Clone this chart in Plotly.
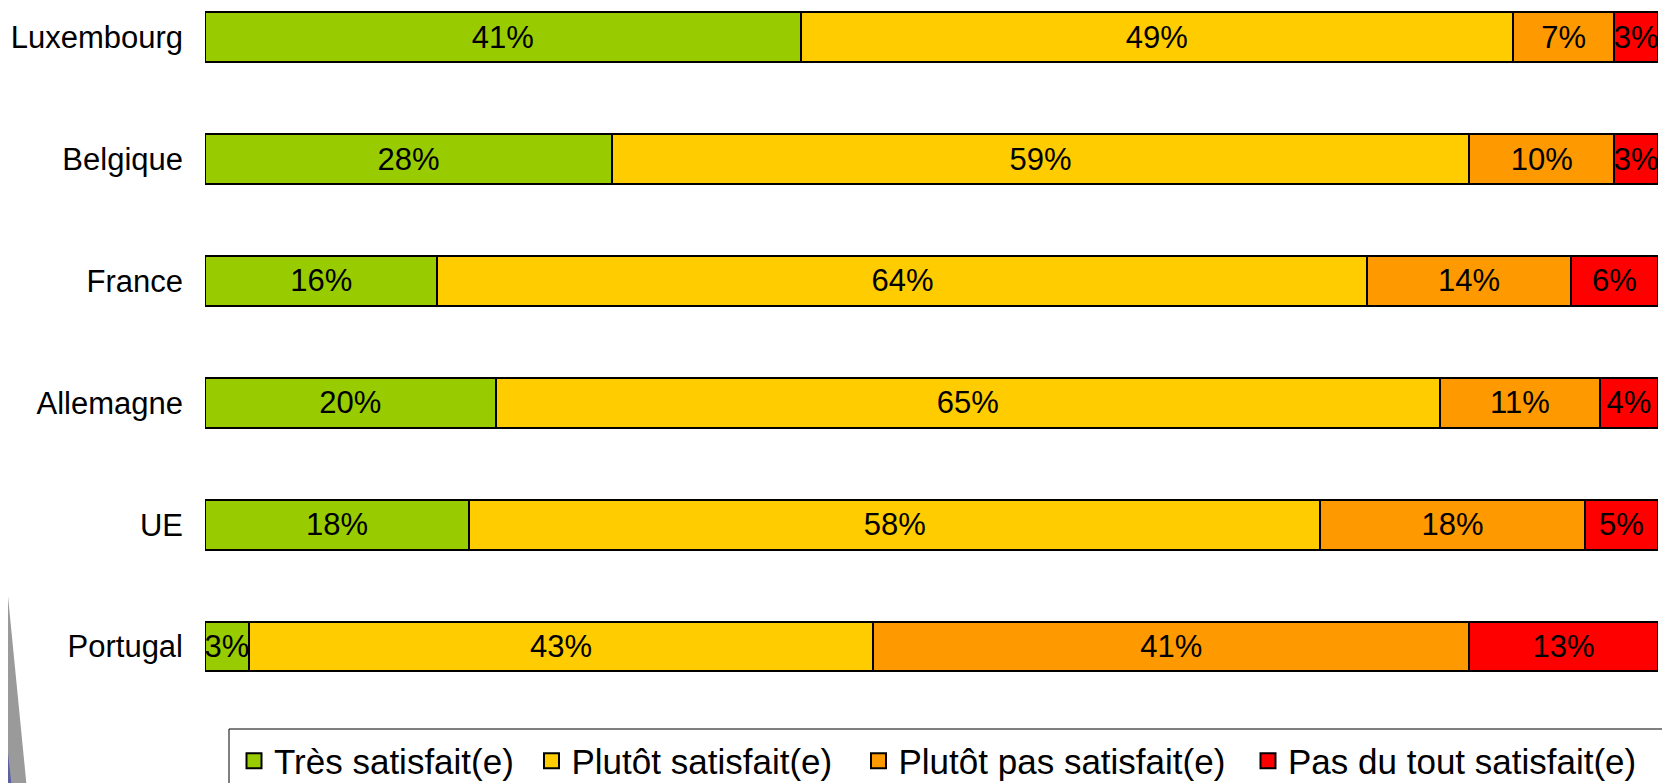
import plotly.graph_objects as go

countries = ["Portugal", "UE", "Allemagne", "France", "Belgique", "Luxembourg"]
series_names = ["Très satisfait(e)", "Plutôt satisfait(e)", "Plutôt pas satisfait(e)", "Pas du tout satisfait(e)"]
tres = [3, 18, 20, 16, 28, 41]
plutot = [43, 58, 65, 64, 59, 49]
plutot_pas = [41, 18, 11, 14, 10, 7]
pas_du_tout = [13, 5, 4, 6, 3, 3]
colors = ["#99cc00", "#ffcc00", "#ff9900", "#ff0000"]

# page has an 8px body margin: work in page pixels and convert
OFF = 8
W, H = 1670 - OFF, 783 - OFF
L = 205 - OFF
R = W - (1658 - OFF)
T = 0
PLOT_BOTTOM = 700 - OFF
B = H - PLOT_BOTTOM
plot_w = W - L - R
plot_h = PLOT_BOTTOM - T

def px_x(p):  # page px -> paper x
    return (p - OFF - L) / plot_w

def px_y(p):  # page px -> paper y
    return (PLOT_BOTTOM - (p - OFF)) / plot_h

# category-axis range from bar centres (page px)
top_center, bottom_center = 37.3, 646.5
step = (bottom_center - top_center) / 5
y_top = (bottom_center - (T + OFF)) / step
y_bot = (bottom_center - (PLOT_BOTTOM + OFF)) / step

legend_ids = ["legend", "legend2", "legend3", "legend4"]
legend_square_centers = [254, 551.5, 878.5, 1268]

fig = go.Figure()
for name, vals, col, lid in zip(series_names, [tres, plutot, plutot_pas, pas_du_tout], colors, legend_ids):
    fig.add_trace(go.Bar(
        y=countries, x=vals, name=name, orientation="h", showlegend=False,
        marker=dict(color=col, line=dict(color="black", width=2)),
        text=[f"{v}%" for v in vals], textposition="inside",
        insidetextanchor="middle", textangle=0, constraintext="none",
        textfont=dict(family="Liberation Sans", size=31, color="black"),
        cliponaxis=False,
    ))
    fig.add_trace(go.Scatter(
        x=[None], y=[None], mode="markers", name=name, legend=lid, showlegend=True,
        marker=dict(symbol="square", size=15, color=col, line=dict(color="black", width=2)),
    ))

legend_layouts = {}
for lid, cx in zip(legend_ids, legend_square_centers):
    legend_layouts[lid] = dict(
        orientation="h", x=px_x(cx - 20), y=px_y(761), xanchor="left", yanchor="middle",
        borderwidth=0, bgcolor="rgba(0,0,0,0)",
        font=dict(family="Liberation Sans", size=35, color="black"),
    )

# decorative swoosh at bottom-left
def path_pts(pts):
    s = " L ".join(f"{px_x(x)},{px_y(y)}" for x, y in pts)
    return "M " + s + " Z"

gray_path = path_pts([(0, 535), (2, 535), (27, 790), (0, 790)])
blue_path = path_pts([(0, 678), (12, 790), (0, 790)])

fig.update_layout(
    width=W, height=H,
    barmode="stack", barnorm="percent", bargap=0.59,
    margin=dict(l=L, r=R, t=T, b=B, autoexpand=False),
    paper_bgcolor="white", plot_bgcolor="white",
    font=dict(family="Liberation Sans", color="black"),
    uniformtext=dict(minsize=31, mode="show"),
    xaxis=dict(range=[0, 100.0001], visible=False, fixedrange=True),
    yaxis=dict(range=[y_bot, y_top], showgrid=False, showline=False, zeroline=False,
               ticks="", ticklabelstandoff=21, fixedrange=True,
               tickfont=dict(family="Liberation Sans", size=31, color="black")),
    shapes=[
        dict(type="path", path=gray_path, xref="paper", yref="paper",
             fillcolor="#9a9a9a", line=dict(width=0), layer="below"),
        dict(type="path", path=blue_path, xref="paper", yref="paper",
             fillcolor="#5a5fa8", line=dict(width=0), layer="below"),
        dict(type="rect", xref="paper", yref="paper",
             x0=px_x(229), x1=px_x(1667), y0=px_y(729), y1=px_y(800),
             line=dict(color="black", width=1), fillcolor="rgba(0,0,0,0)", layer="below"),
    ],
    showlegend=True,
    **legend_layouts,
)

fig.write_html("out.html", config={"displayModeBar": False})
